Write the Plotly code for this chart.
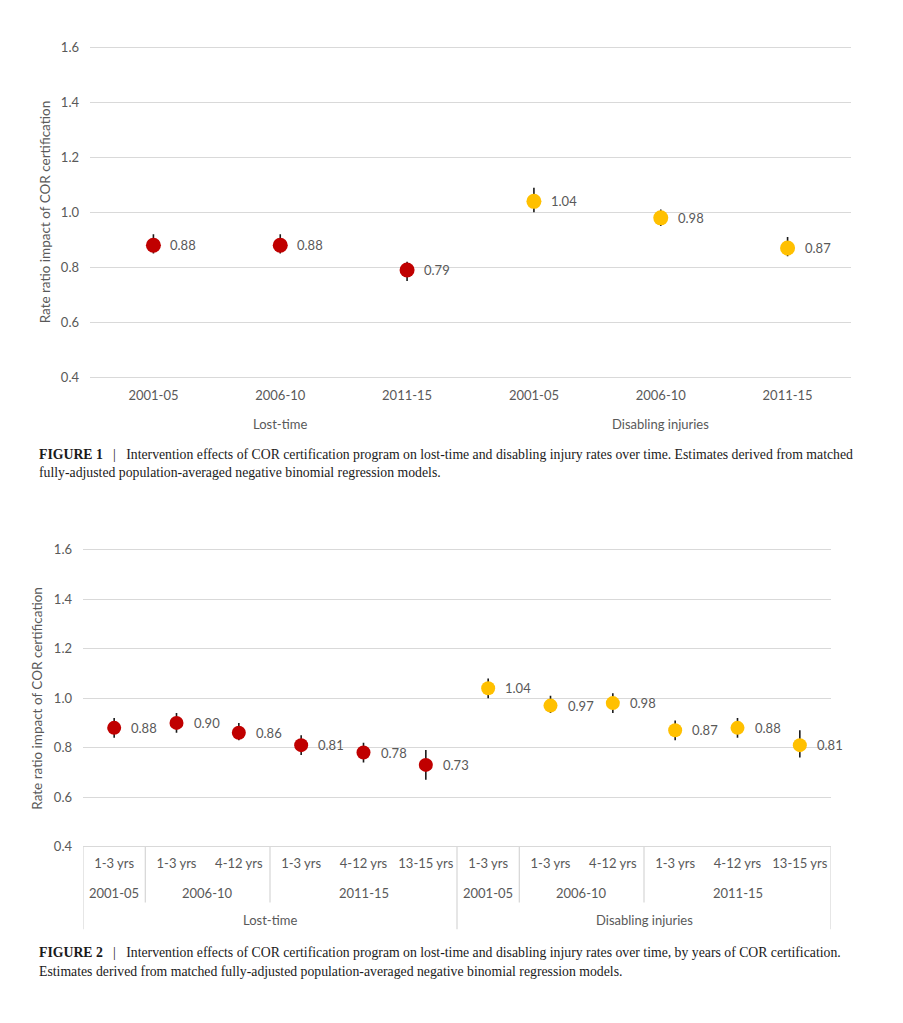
import plotly.graph_objects as go

# ---------------- data ----------------
f1_periods = ["2001-05", "2006-10", "2011-15"]
f1_outcomes = ["Lost-time", "Disabling injuries"]
f1_lost = [0.88, 0.88, 0.79]
f1_lost_lo = [0.85, 0.85, 0.75]
f1_lost_hi = [0.92, 0.92, 0.82]
f1_dis = [1.04, 0.98, 0.87]
f1_dis_lo = [1.00, 0.95, 0.84]
f1_dis_hi = [1.09, 1.01, 0.91]

f2_yrs = ["1-3 yrs", "1-3 yrs", "4-12 yrs", "1-3 yrs", "4-12 yrs", "13-15 yrs"]
f2_periods = ["2001-05", "2006-10", "2006-10", "2011-15", "2011-15", "2011-15"]
f2_lost = [0.88, 0.90, 0.86, 0.81, 0.78, 0.73]
f2_lost_lo = [0.84, 0.86, 0.83, 0.77, 0.74, 0.67]
f2_lost_hi = [0.92, 0.94, 0.90, 0.85, 0.82, 0.79]
f2_dis = [1.04, 0.97, 0.98, 0.87, 0.88, 0.81]
f2_dis_lo = [1.00, 0.94, 0.94, 0.83, 0.84, 0.76]
f2_dis_hi = [1.08, 1.01, 1.02, 0.91, 0.92, 0.87]

y_ticks = [0.4, 0.6, 0.8, 1.0, 1.2, 1.4, 1.6]
y_title = "Rate ratio impact of COR certification"
cap1 = ["<b>FIGURE 1</b>   |   Intervention effects of COR certification program on lost-time and disabling injury rates over time. Estimates derived from matched",
        "fully-adjusted population-averaged negative binomial regression models."]
cap2 = ["<b>FIGURE 2</b>   |   Intervention effects of COR certification program on lost-time and disabling injury rates over time, by years of COR certification.",
        "Estimates derived from matched fully-adjusted population-averaged negative binomial regression models."]

RED = "#C00000"
YEL = "#FFC000"
GRAY = "#595959"
GRID = "#D9D9D9"
FONT = "Lato"
OFF = 8                     # page body margin
W, H = 903 - 2 * OFF, 990   # keep the page inside the window (no scrolling)
SY, DY = 0.99027, 4.45      # observed vertical rendering correction

def px(x):
    return (x - OFF) / W

def py(y):
    y = (y - DY) / SY
    return 1 - (y - OFF) / H

YMIN, YMAX, PAD = 0.4, 1.6, 0.01

def ydomain(top_px, bot_px):
    per = (bot_px - top_px) / (YMAX - YMIN)
    return [py(bot_px + PAD * per), py(top_px - PAD * per)]

fig = go.Figure()
ann = []
shapes = []

def add_series(xs, vals, lo, hi, color, xa, ya, size):
    fig.add_trace(go.Scatter(
        x=xs, y=vals, mode="markers", xaxis=xa, yaxis=ya,
        marker=dict(color=color, size=size),
        error_y=dict(type="data", symmetric=False,
                     array=[h - v for h, v in zip(hi, vals)],
                     arrayminus=[v - l for v, l in zip(vals, lo)],
                     color="#1a1a1a", thickness=1.6, width=0),
        showlegend=False, hoverinfo="skip"))
    for x, v in zip(xs, vals):
        ann.append(dict(x=x, y=v, xref=xa, yref=ya, text=f"{v:.2f}",
                        showarrow=False, xanchor="left", yanchor="middle",
                        xshift=15, font=dict(family=FONT, size=13, color=GRAY)))

# ---------- Figure 1 ----------
n1 = len(f1_periods)
x_lost1 = list(range(n1))
x_dis1 = list(range(n1, 2 * n1))
add_series(x_lost1, f1_lost, f1_lost_lo, f1_lost_hi, RED, "x", "y", 15)
add_series(x_dis1, f1_dis, f1_dis_lo, f1_dis_hi, YEL, "x", "y", 15)
for gi, name in enumerate(f1_outcomes):
    ann.append(dict(x=gi * n1 + (n1 - 1) / 2, y=py(423), xref="x", yref="paper",
                    text=name, showarrow=False, yanchor="middle",
                    font=dict(family=FONT, size=13, color=GRAY)))

# ---------- Figure 2 ----------
n2 = len(f2_yrs)
x_lost2 = list(range(n2))
x_dis2 = list(range(n2, 2 * n2))
add_series(x_lost2, f2_lost, f2_lost_lo, f2_lost_hi, RED, "x2", "y2", 14)
add_series(x_dis2, f2_dis, f2_dis_lo, f2_dis_hi, YEL, "x2", "y2", 14)

yb = py(846)
for gi, name in enumerate(f1_outcomes):
    off = gi * n2
    ann.append(dict(x=off + (n2 - 1) / 2, y=py(920), xref="x2", yref="paper",
                    text=name, showarrow=False, yanchor="middle",
                    font=dict(family=FONT, size=13, color=GRAY)))
    i = 0
    while i < n2:
        j = i
        while j + 1 < n2 and f2_periods[j + 1] == f2_periods[i]:
            j += 1
        ann.append(dict(x=off + (i + j) / 2, y=py(892.5), xref="x2", yref="paper",
                        text=f2_periods[i], showarrow=False, yanchor="middle",
                        font=dict(family=FONT, size=13, color=GRAY)))
        if i > 0:
            shapes.append(dict(type="line", xref="x2", yref="paper",
                               x0=off + i - 0.5, x1=off + i - 0.5, y0=yb, y1=py(902),
                               line=dict(color=GRID, width=1.3)))
        i = j + 1
    shapes.append(dict(type="line", xref="x2", yref="paper",
                       x0=off - 0.5, x1=off - 0.5, y0=yb, y1=py(929),
                       line=dict(color=GRID, width=1.3)))
shapes.append(dict(type="line", xref="x2", yref="paper",
                   x0=2 * n2 - 0.5, x1=2 * n2 - 0.5, y0=yb, y1=py(929),
                   line=dict(color=GRID, width=1.3)))

# y titles
ann.append(dict(x=px(45), y=py(211), xref="paper", yref="paper", text=y_title,
                textangle=-90, showarrow=False, xanchor="center", yanchor="middle",
                font=dict(family=FONT, size=13.5, color=GRAY)))
ann.append(dict(x=px(37), y=py(698), xref="paper", yref="paper", text=y_title,
                textangle=-90, showarrow=False, xanchor="center", yanchor="middle",
                font=dict(family=FONT, size=13.5, color=GRAY)))

# captions
for line, yy in [(cap1[0], 453), (cap1[1], 472), (cap2[0], 952), (cap2[1], 971)]:
    ann.append(dict(x=px(37), y=py(yy), xref="paper", yref="paper", text=line,
                    xanchor="left", yanchor="middle", showarrow=False, align="left",
                    font=dict(family="Liberation Serif", size=13.75, color="#1a1a1a")))

yaxis_common = dict(range=[YMIN - PAD, YMAX + PAD], tickvals=y_ticks, tickformat=".1f",
                    showgrid=True, gridcolor=GRID, gridwidth=1.3, zeroline=False,
                    showline=False, ticks="", ticklabelstandoff=10,
                    tickfont=dict(family=FONT, size=13, color=GRAY), fixedrange=True)

fig.update_layout(
    width=W, height=H, margin=dict(l=0, r=0, t=0, b=0),
    paper_bgcolor="white", plot_bgcolor="white",
    xaxis=dict(domain=[px(90), px(851)], range=[-0.5, 2 * n1 - 0.5],
               tickvals=x_lost1 + x_dis1, ticktext=f1_periods + f1_periods,
               showgrid=False, zeroline=False, showline=False, ticks="",
               ticklabelstandoff=6, tickfont=dict(family=FONT, size=13, color=GRAY),
               anchor="y"),
    yaxis=dict(domain=ydomain(46, 376), anchor="x", **yaxis_common),
    xaxis2=dict(domain=[px(83), px(831)], range=[-0.5, 2 * n2 - 0.5],
                tickvals=x_lost2 + x_dis2, ticktext=f2_yrs + f2_yrs,
                showgrid=False, zeroline=False, showline=False, ticks="",
                ticklabelstandoff=5, tickfont=dict(family=FONT, size=13, color=GRAY),
                anchor="y2"),
    yaxis2=dict(domain=ydomain(549, 846), anchor="x2", **yaxis_common),
    annotations=ann, shapes=shapes,
)

fig.write_html("out.html")
